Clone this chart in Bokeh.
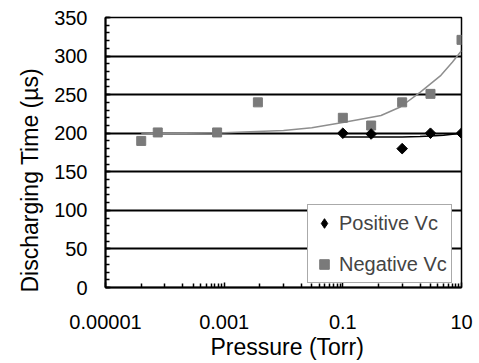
import numpy as np
from bokeh.plotting import figure
from bokeh.models import (FixedTicker, CustomJSTickFormatter, Legend, LegendItem,
                          Title, Range1d)
from bokeh.embed import file_html
from bokeh.resources import INLINE

# ---- data ----
pos_x = [0.1, 0.3, 1.0, 3.0, 10.0]
pos_y = [200, 199, 180, 200, 200]

neg_x = [4e-5, 7.6e-5, 7.6e-4, 3.7e-3, 0.1, 0.3, 1.0, 3.0, 10.0]
neg_y = [190, 201, 201, 240, 220, 210, 240, 251, 321]

# trend lines as drawn in the reference
pos_fit_x = [0.1, 1.0, 2.0, 3.0, 5.0, 7.0, 10.0]
pos_fit_y = [195, 195.2, 195.8, 196.5, 197.5, 198.6, 200]

neg_fit_x = [4e-5, 1e-4, 1e-3, 0.01, 0.03, 0.1, 0.2, 0.44, 0.93, 2.0, 4.5, 7.0, 10.0]
neg_fit_y = [199, 199.5, 200.5, 203.5, 207, 214, 218, 223, 234, 253, 275, 292, 307]

x_major = [1e-5, 1e-3, 1e-1, 10.0]
x_minor = [4e-5, 1e-4, 2e-4, 3e-4, 4e-4, 5e-4, 6e-4, 7e-4, 8e-4, 9e-4,
           4e-3, 1e-2, 2e-2, 3e-2, 4e-2, 5e-2, 6e-2, 7e-2, 8e-2, 9e-2,
           0.4, 1, 2, 3, 4, 5, 6, 7, 8, 9]
y_major = [0, 50, 100, 150, 200, 250, 300, 350]
y_minor = list(range(0, 351, 10))

x_title = "Pressure (Torr)"
y_title = "Discharging Time (µs)"
series_names = ["Positive Vc", "Negative Vc"]

FONT = "Liberation Sans"

p = figure(width=479, height=363, x_axis_type="log",
           x_range=Range1d(1e-5, 10), y_range=Range1d(0, 350),
           output_backend="svg", toolbar_location=None,
           min_border_left=105, min_border_right=18,
           min_border_top=17, min_border_bottom=76)

p.background_fill_color = "white"
p.border_fill_color = "white"
p.outline_line_color = "black"
p.outline_line_width = 1.5

p.xgrid.visible = False
p.ygrid.grid_line_color = "black"
p.ygrid.grid_line_width = 2

p.xaxis.ticker = FixedTicker(ticks=x_major, minor_ticks=x_minor)
p.yaxis.ticker = FixedTicker(ticks=y_major, minor_ticks=y_minor)
p.xaxis.formatter = CustomJSTickFormatter(code="""
    if (tick >= 1) { return tick.toFixed(0); }
    const d = Math.round(-Math.log10(tick));
    return tick.toFixed(d);
""")

for ax in (p.xaxis[0], p.yaxis[0]):
    ax.axis_line_color = "black"
    ax.axis_line_width = 2
    ax.major_tick_line_color = "black"
    ax.major_tick_line_width = 1.5
    ax.minor_tick_line_color = "black"
    ax.minor_tick_line_width = 1.5
    ax.major_tick_in = 5
    ax.major_tick_out = 0
    ax.minor_tick_in = 4
    ax.minor_tick_out = 0
    ax.major_label_text_font = FONT
    ax.major_label_text_font_size = "20px"
    ax.major_label_text_color = "black"

p.xaxis.major_label_standoff = 27
p.yaxis.major_label_standoff = 18

# trend lines
p.line(neg_fit_x, neg_fit_y, line_color="#8e8e8e", line_width=1.5, line_join="round")
p.line(pos_fit_x, pos_fit_y, line_color="black", line_width=1.5)

# markers
r_neg = p.scatter(neg_x, neg_y, marker="square", size=9,
                  fill_color="#7a7a7a", line_color="#7a7a7a")
r_pos = p.scatter(pos_x, pos_y, marker="square", angle=np.pi / 4, size=7.5,
                  fill_color="black", line_color="black")
# legend-only glyph for the diamond key (its point lies outside the x range)
r_pos_key = p.scatter(x=[max(pos_x) * 1000], y=[pos_y[0]], marker="diamond", size=10,
                      fill_color="black", line_color="black")

legend = Legend(items=[LegendItem(label=series_names[0], renderers=[r_pos_key]),
                       LegendItem(label=series_names[1], renderers=[r_neg])],
                location=(202, 4))
legend.label_text_font = FONT
legend.label_text_font_size = "20px"
legend.label_height = 28
legend.glyph_height = 24
legend.glyph_width = 24
legend.label_standoff = 3
legend.spacing = 13
legend.padding = 4
legend.margin = 0
legend.border_line_color = "#555555"
legend.border_line_width = 1
legend.background_fill_color = "white"
legend.background_fill_alpha = 1.0
p.add_layout(legend)

# axis titles
yt = Title(text=y_title, align="left", offset=-5, standoff=18,
           text_font=FONT, text_font_size="23px", text_font_style="normal",
           text_color="black")
p.add_layout(yt, "left")
xt = Title(text=x_title, align="left", offset=105, standoff=0,
           text_font=FONT, text_font_size="23px", text_font_style="normal",
           text_color="black")
p.add_layout(xt, "below")

open("out.html", "w").write(file_html(p, INLINE))
